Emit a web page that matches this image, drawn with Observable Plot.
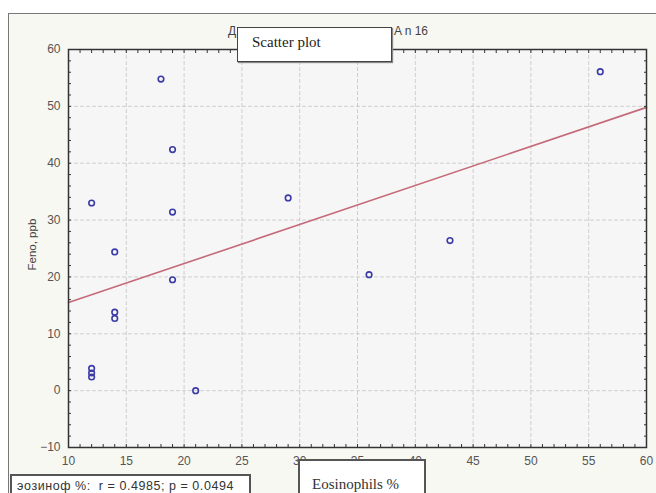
<!DOCTYPE html>
<html><head><meta charset="utf-8">
<script src="https://cdn.jsdelivr.net/npm/d3@7"></script>
<script src="https://cdn.jsdelivr.net/npm/@observablehq/plot@0.6"></script>
<style>
body{margin:0;background:#fff;overflow:hidden;}
#wrap{position:relative;width:656px;height:493px;overflow:hidden;}
#outer{position:absolute;left:8px;top:13px;width:660px;height:490px;border:1px solid #777;background:#f8f8f3;box-sizing:border-box;}
#chart{position:absolute;left:0;top:0;}
.box{position:absolute;background:#fff;border:1px solid #444;box-sizing:border-box;}
.title{position:absolute;top:24px;font:12px Arial, "Liberation Sans", sans-serif;color:#444;white-space:nowrap;}
#t1{left:228px;}
#t2{left:394px;}
#sp{left:237px;top:27px;width:155px;height:35px;font:15px "Liberation Serif", serif;color:#222;padding:6px 0 0 14px;box-shadow:1px 1px 1px #888;}
#stat{left:10px;top:474px;width:241px;height:24px;font:12.5px Arial, "Liberation Sans", sans-serif;letter-spacing:0.55px;color:#333;padding:3px 0 0 5px;border:2px solid #555;white-space:nowrap;}
#xl{left:298px;top:459px;width:128px;height:40px;font:15px "Liberation Serif", serif;color:#333;padding:15px 0 0 12px;border:2px solid #555;}
</style></head>
<body><div id="wrap"><div id="outer"></div><div id="chart"></div>
<div class="title" id="t1">Д</div>
<div class="title" id="t2">A n 16</div>
<div class="box" id="sp">Scatter plot</div>
<div class="box" id="stat">эозиноф %:&nbsp; r = 0.4985; p = 0.0494</div>
<div class="box" id="xl">Eosinophils %</div>
</div>
<script>
const eosinophils = [12,12,12,12,14,14,14,18,19,19,19,21,29,36,43,56];
const feno        = [33.0,3.9,3.1,2.4,24.4,13.8,12.7,54.8,42.4,31.4,19.5,0.0,33.9,20.4,26.4,56.1];
const xTicks = [10,15,20,25,30,35,40,45,50,55,60];
const yTicks = [-10,0,10,20,30,40,50,60];
const xMinor = d3.range(10,61,1);
const yMinor = d3.range(-10,61,2);
const xDomain = [10,60];
const yDomain = [-10,60];

const data = eosinophils.map((x,i)=>({x, y: feno[i]}));
const mx = d3.mean(eosinophils), my = d3.mean(feno);
const slope = d3.sum(data,d=>(d.x-mx)*(d.y-my))/d3.sum(data,d=>(d.x-mx)**2);
const intercept = my - slope*mx;
const fit = xDomain.map(x=>({x, y: intercept + slope*x}));

const tickStyle = {stroke:"#333", strokeWidth:1};
const chart = Plot.plot({
  width:656, height:493,
  marginLeft:68, marginRight:10, marginTop:49, marginBottom:46,
  style:{background:"transparent", fontFamily:"Arial, 'Liberation Sans', sans-serif", fontSize:"11.5px", color:"#555"},
  x:{domain:xDomain}, y:{domain:yDomain},
  marks:[
    Plot.frame({fill:"#f6f6f6", stroke:null}),
    Plot.gridX({ticks:xTicks, stroke:"#aaa", strokeOpacity:0.5, strokeDasharray:"4,2"}),
    Plot.gridY({ticks:yTicks, stroke:"#aaa", strokeOpacity:0.5, strokeDasharray:"4,2"}),
    Plot.line(fit, {x:"x", y:"y", stroke:"#c56a78", strokeWidth:1.6}),
    Plot.dot(data, {x:"x", y:"y", r:2.8, stroke:"#3b3ba8", strokeWidth:1.6, fill:"none"}),
    Plot.axisX({ticks:xTicks, tickSize:0, tickPadding:9, label:null, fill:"#555", fontSize:12}),
    Plot.axisY({ticks:yTicks, tickSize:0, tickPadding:8, label:null, fill:"#555", fontSize:12}),
    Plot.axisX({anchor:"bottom", ticks:xMinor, tickSize:-3, text:null, label:null, ...tickStyle}),
    Plot.axisX({anchor:"top", ticks:xMinor, tickSize:-3, text:null, label:null, ...tickStyle}),
    Plot.axisY({anchor:"left", ticks:yMinor, tickSize:-3, text:null, label:null, ...tickStyle}),
    Plot.axisY({anchor:"right", ticks:yMinor, tickSize:-3, text:null, label:null, ...tickStyle}),
    Plot.frame({stroke:"#333", strokeWidth:1.5}),
    Plot.text(["Feno, ppb"], {frameAnchor:"left", dx:-36, dy:22, rotate:-90, fill:"#444", fontSize:11.5})
  ]
});
document.getElementById("chart").appendChild(chart);
</script></body></html>
